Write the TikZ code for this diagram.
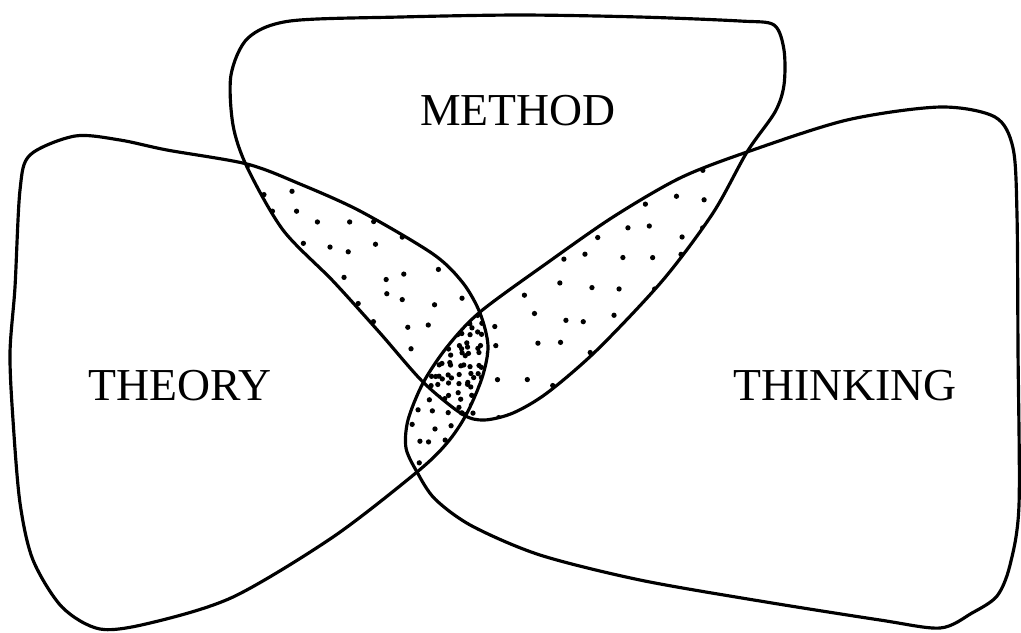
\documentclass[tikz,border=0pt]{standalone}
\usepackage{fontspec}
\setmainfont{Liberation Serif}
\usetikzlibrary{calc}
% the three regions, in pixel units
\newcommand{\methodshape}{plot[smooth cycle,tension=0.5] coordinates {
  (231,75) (248,38) (290,21) (400,17) (520,15) (640,17) (740,21) (774,25)
  (784,50) (784,85) (775,112) (747,152) (713,213) (663,280) (597,350)
  (547,393) (513,413) (484,420) (462,414) (423,382) (380,333) (333,281)
  (283,230) (247,167) (233,125)}}
\newcommand{\theoryshape}{plot[smooth cycle,tension=0.5] coordinates {
  (20,190) (30,155) (75,136) (120,140) (167,150) (247,164) (300,184)
  (360,211) (433,254) (463,283) (480,313) (488,346) (482,378) (466,415)
  (447,443) (417,472) (333,537) (233,597) (150,623) (100,629) (62,607)
  (33,560) (20,503) (13,420) (10,353) (15,287)}}
\newcommand{\thinkingshape}{plot[smooth cycle,tension=0.5] coordinates {
  (1017,215) (1013,148) (995,117) (940,107) (847,120) (747,152) (680,178)
  (613,217) (547,263) (480,312) (447,347) (423,383) (408,420) (406,448)
  (417,472) (435,499) (472,526) (540,555) (640,580) (760,601) (880,620)
  (940,628) (972,613) (997,596) (1010,565) (1019,505) (1018,350)}}

\begin{document}
\begin{tikzpicture}[x=0.01cm,y=-0.01cm,line width=0.9pt,
    lbl/.style={font=\fontsize{13}{15}\selectfont}]
  \useasboundingbox (0,0) rectangle (1021,632);
  \pgfmathsetseed{41}
  % dots in the overlaps
  \begin{scope}
    \clip \methodshape; \clip \theoryshape;
    \foreach \x in {240,268,...,500} \foreach \y in {160,188,...,430}
      \fill ($(\x,\y)+(rand*8,rand*8)$) circle (0.75pt);
  \end{scope}
  \begin{scope}
    \clip \methodshape; \clip \thinkingshape;
    \foreach \x in {470,500,...,760} \foreach \y in {140,170,...,430}
      \fill ($(\x,\y)+(rand*8,rand*8)$) circle (0.75pt);
  \end{scope}
  \begin{scope}
    \clip \theoryshape; \clip \thinkingshape;
    \foreach \x in {400,416,...,500} \foreach \y in {300,316,...,480}
      \fill ($(\x,\y)+(rand*4,rand*4)$) circle (0.75pt);
  \end{scope}
  \begin{scope}
    \clip \methodshape; \clip \theoryshape; \clip \thinkingshape;
    \foreach \x in {420,430,...,495} \foreach \y in {305,315,...,425}
      \fill ($(\x,\y)+(rand*2.5,rand*2.5)$) circle (0.75pt);
  \end{scope}
  % outlines
  \draw \methodshape;
  \draw \theoryshape;
  \draw \thinkingshape;
  % labels
  \node[lbl] (method) at (518,111) {METHOD};
  \node[lbl] (theory) at (180,386) {THEORY};
  \node[lbl] (thinking) at (845,386) {THINKING};
\end{tikzpicture}
\end{document}
